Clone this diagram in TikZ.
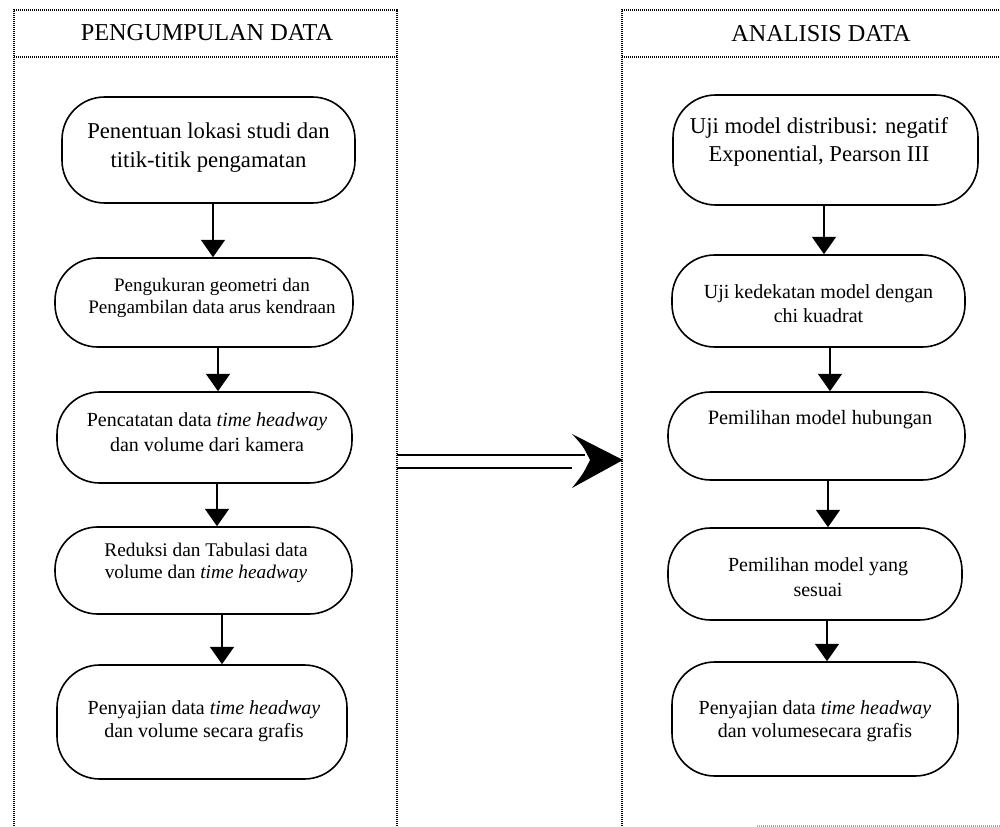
\documentclass[tikz,border=0pt]{standalone}
\usepackage{fontspec}
\setmainfont{Liberation Serif}
\usetikzlibrary{arrows.meta}
\begin{document}
\begin{tikzpicture}[x=0.75pt,y=-0.75pt,
 panelline/.style={line width=1.1pt, dash pattern=on 0.9pt off 0.6pt},
 flowbox/.style 2 args={draw, line width=1.2pt, rounded corners=32pt, inner sep=0pt,
   minimum width={#1*0.75pt}, minimum height={#2*0.75pt}},
 boxtext/.style={align=center, inner sep=0pt, font=\fontsize{15}{17.5}\selectfont},
 bigtext/.style={align=center, inner sep=0pt, font=\fontsize{17}{21.5}\selectfont},
 headtext/.style={inner sep=0pt, font=\fontsize{18.2}{21}\selectfont},
 flowarrow/.style={line width=1pt, -{Triangle[width=18pt,length=13pt]}},
]
\useasboundingbox (0,0) rectangle (1000,827);

% panels
\draw[panelline] (14,840) -- (14,10) -- (397,10) -- (397,840);
\draw[panelline] (14,57) -- (397,57);
\draw[panelline] (622,840) -- (622,10) -- (1010,10);
\draw[panelline] (622,57) -- (1010,57);
\draw[panelline, black!35] (757,826) -- (1000,826);

\node[headtext] (HL) at (207,33) {PENGUMPULAN DATA};
\node[headtext] (HR) at (821,34) {ANALISIS DATA};

% left column
\node[flowbox={293}{106}] (L1) at (208.5,150) {};
\node[bigtext] (L1t) at (208.5,147.5) {Penentuan lokasi studi dan\\titik-titik pengamatan};
\node[flowbox={298}{89}] (L2) at (204,302.5) {};
\node[boxtext, font=\fontsize{14.3}{16}\selectfont] (L2t) at (212,298) {Pengukuran geometri dan\\Pengambilan data arus kendraan};
\node[flowbox={295}{91}] (L3) at (204.5,437.5) {};
\node[boxtext, font=\fontsize{15}{18.5}\selectfont] (L3t) at (207,432) {Pencatatan data \textit{time headway}\\dan volume dari kamera};
\node[flowbox={297}{87}] (L4) at (203.5,570.5) {};
\node[boxtext, font=\fontsize{14.5}{16}\selectfont] (L4t) at (206,563) {Reduksi dan Tabulasi data\\volume dan \textit{time headway}};
\node[flowbox={290}{114}] (L5) at (202,722) {};
\node[boxtext] (L5t) at (204,721) {Penyajian data \textit{time headway}\\dan volume secara grafis};

% right column
\node[flowbox={305}{110}] (R1) at (825.5,150) {};
\node[bigtext] (R1t) at (819,142) {Uji model distribusi: negatif\\Exponential, Pearson III};
\node[flowbox={293}{92}] (R2) at (818.5,301) {};
\node[boxtext, font=\fontsize{15}{18}\selectfont] (R2t) at (818.5,304) {Uji kedekatan model dengan\\chi kuadrat};
\node[flowbox={297}{88}] (R3) at (816.5,436) {};
\node[boxtext, font=\fontsize{15.3}{18}\selectfont] (R3t) at (820,420) {Pemilihan model hubungan};
\node[flowbox={294}{92}] (R4) at (815,574) {};
\node[boxtext, font=\fontsize{15}{18.5}\selectfont] (R4t) at (818,577) {Pemilihan model yang\\sesuai};
\node[flowbox={286}{114}] (R5) at (815,719) {};
\node[boxtext] (R5t) at (815,721) {Penyajian data \textit{time headway}\\dan volumesecara grafis};

% arrow columns
\coordinate (a1) at (213,0);
\coordinate (a2) at (218,0);
\coordinate (a3) at (217,0);
\coordinate (a4) at (222,0);
\coordinate (b1) at (824,0);
\coordinate (b2) at (830,0);
\coordinate (b3) at (828,0);
\coordinate (b4) at (827,0);

\draw[flowarrow] (L1.south -| a1) -- (L2.north -| a1);
\draw[flowarrow] (L2.south -| a2) -- (L3.north -| a2);
\draw[flowarrow] (L3.south -| a3) -- (L4.north -| a3);
\draw[flowarrow] (L4.south -| a4) -- (L5.north -| a4);
\draw[flowarrow] (R1.south -| b1) -- (R2.north -| b1);
\draw[flowarrow] (R2.south -| b2) -- (R3.north -| b2);
\draw[flowarrow] (R3.south -| b3) -- (R4.north -| b3);
\draw[flowarrow] (R4.south -| b4) -- (R5.north -| b4);

% big arrow between panels
\coordinate (bigL) at (397,460);
\coordinate (bigR) at (623,460);
\draw[line width=1.8pt] ([yshift=3.75pt]bigL) -- (585,455);
\draw[line width=1.3pt] ([yshift=-6pt]bigL) -- (572,468);
\fill (bigR) -- (572,434) .. controls (583,446) .. (590,460) .. controls (583,474) .. (572,488) -- cycle;
\end{tikzpicture}
\end{document}
